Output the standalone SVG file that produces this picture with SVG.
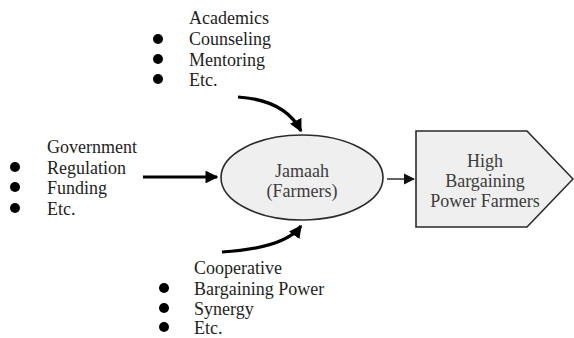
<svg xmlns="http://www.w3.org/2000/svg" width="574" height="338" viewBox="0 0 574 338">
  <defs>
    <style>
      text { font-family: "Liberation Serif", "Times New Roman", serif; font-size: 18px; fill: #1e1e1e; }
      .node-text { fill: #3c3c3c; text-anchor: middle; }
      .bullet { fill: #000; }
      .shape { fill: #efefef; stroke: #2a2a2a; stroke-width: 1.6; }
      .thick { fill: none; stroke: #000; stroke-width: 3.2; }
      .thin { fill: none; stroke: #222; stroke-width: 1.4; }
    </style>
    <marker id="headBig" viewBox="0 0 10 10" refX="9" refY="5" markerWidth="4" markerHeight="4" orient="auto" markerUnits="strokeWidth">
      <path d="M0,0 L10,5 L0,10 Z" fill="#000"/>
    </marker>
    <marker id="headSmall" viewBox="0 0 10 10" refX="9" refY="5" markerWidth="8" markerHeight="8" orient="auto" markerUnits="strokeWidth">
      <path d="M0,0 L10,5 L0,10 Z" fill="#111"/>
    </marker>
  </defs>

  <rect width="574" height="338" fill="#fff"/>

  <!-- supporting parties: academics -->
  <g id="academics">
    <text x="189" y="24">Academics</text>
    <circle class="bullet" cx="158" cy="39" r="5"/>
    <text x="189" y="45">Counseling</text>
    <circle class="bullet" cx="158" cy="59" r="5"/>
    <text x="189" y="65.5">Mentoring</text>
    <circle class="bullet" cx="158" cy="79" r="5"/>
    <text x="189" y="86">Etc.</text>
  </g>

  <!-- supporting parties: government -->
  <g id="government">
    <text x="47" y="153">Government</text>
    <circle class="bullet" cx="15" cy="167" r="5"/>
    <text x="47" y="173.5">Regulation</text>
    <circle class="bullet" cx="15" cy="187" r="5"/>
    <text x="47" y="194">Funding</text>
    <circle class="bullet" cx="15" cy="208" r="5"/>
    <text x="47" y="214.5">Etc.</text>
  </g>

  <!-- supporting parties: cooperative -->
  <g id="cooperative">
    <text x="194" y="274">Cooperative</text>
    <circle class="bullet" cx="164" cy="288" r="5"/>
    <text x="194" y="294.5">Bargaining Power</text>
    <circle class="bullet" cx="164" cy="308" r="5"/>
    <text x="194" y="314.5">Synergy</text>
    <circle class="bullet" cx="164" cy="327" r="5"/>
    <text x="194" y="334">Etc.</text>
  </g>

  <!-- central node -->
  <g id="jamaah">
    <ellipse class="shape" cx="302" cy="177.5" rx="81" ry="42.5"/>
    <text class="node-text" x="302" y="177">Jamaah</text>
    <text class="node-text" x="302" y="197">(Farmers)</text>
  </g>

  <!-- outcome node -->
  <g id="outcome">
    <path class="shape" d="M416,131 L527,131 L573,179 L527,227 L416,227 Z"/>
    <text class="node-text" x="485" y="167">High</text>
    <text class="node-text" x="485" y="187">Bargaining</text>
    <text class="node-text" x="485" y="207">Power Farmers</text>
  </g>

  <!-- connectors -->
  <g id="connectors">
    <path class="thick" d="M238,97 Q285,100 301,131" marker-end="url(#headBig)"/>
    <path class="thick" d="M143,177 L217,177" marker-end="url(#headBig)"/>
    <path class="thick" d="M222,252 Q285,248 301,226" marker-end="url(#headBig)"/>
    <path class="thin" d="M387,179 L414,179" marker-end="url(#headSmall)"/>
  </g>
</svg>
